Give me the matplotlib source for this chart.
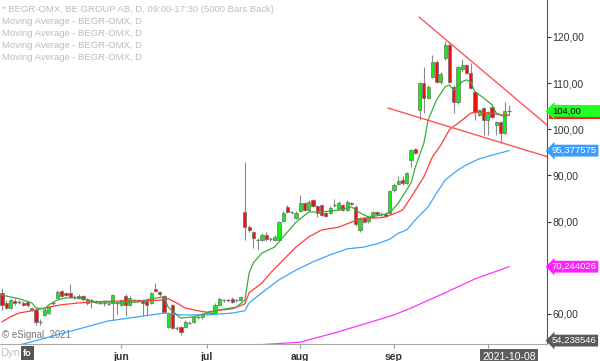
import numpy as np
import matplotlib.pyplot as plt
from matplotlib.patches import Rectangle
from matplotlib.transforms import blended_transform_factory

plt.rcParams.update({"font.family": ["Liberation Sans", "DejaVu Sans"], "font.size": 7})

# daglig OHLC, BEGR-OMX, index 0 = första synliga stapeln
opens = [64.5, 62.4, 61.3, 62.8, 62.6, 62.4, 62.6, 60.9, 60.9, 58.3,
         59.8, 60.2, 62.4, 63.5, 65.0, 64.5, 64.5, 63.7, 63.9, 63.9,
         62.4, 63.0, 62.8, 62.4, 62.3, 62.2, 62.4, 62.4, 62.0, 63.9,
         62.0, 63.0, 63.0, 63.0, 62.8, 62.4, 65.4, 64.8, 63.9, 57.2,
         62.0, 57.0, 57.2, 57.2, 58.1, 58.3, 59.3, 59.3, 60.2, 60.2,
         60.2, 62.0, 63.0, 63.0, 63.3, 63.0, 63.0, 82.1, 78.85, 77.8,
         76.0, 76.0, 77.1, 76.2, 76.0, 76.0, 80.2, 83.2, 82.1, 80.8,
         82.3, 84.0, 82.5, 84.7, 83.4, 83.6, 81.9, 81.9, 83.6, 82.8,
         83.6, 82.5, 84.0, 83.2, 78.2, 80.8, 80.1, 81.0, 82.1, 81.7,
         81.7, 81.9, 86.9, 88.2, 89.0, 88.4, 93.4, 95.7, 104.2, 110.0,
         106.8, 111.3, 114.6, 110.3, 115.5, 118.3, 109.2, 105.9, 113.0, 113.9,
         112.2, 108.1, 103.1, 104.6, 102.0, 104.8, 100.9, 101.6, 99.2, 103.9]
highs = [65.6, 63.0, 63.3, 63.5, 63.0, 62.8, 62.9, 61.6, 61.2, 59.0,
         61.2, 61.8, 62.8, 65.2, 65.3, 64.8, 66.5, 64.1, 64.3, 64.2,
         63.5, 63.3, 63.1, 62.7, 63.0, 62.5, 64.3, 62.8, 63.3, 64.3,
         63.8, 63.3, 63.3, 63.3, 63.1, 64.8, 66.7, 65.0, 64.1, 60.4,
         62.2, 57.4, 57.5, 58.6, 58.4, 59.6, 59.6, 60.3, 60.5, 60.5,
         62.3, 63.6, 63.3, 63.3, 63.6, 63.3, 64.0, 92.9, 79.2, 78.0,
         76.4, 77.5, 77.8, 76.6, 77.0, 80.2, 82.3, 83.6, 82.4, 82.2,
         85.8, 84.3, 84.6, 85.0, 83.7, 83.9, 82.2, 83.3, 84.9, 84.5,
         83.9, 84.6, 84.3, 83.5, 81.0, 81.1, 81.2, 82.4, 82.4, 82.0,
         82.0, 86.9, 88.4, 89.8, 89.8, 90.8, 95.8, 96.0, 110.3, 113.5,
         109.5, 116.0, 115.0, 112.5, 119.1, 118.8, 109.5, 113.8, 115.2, 114.2,
         114.4, 108.4, 104.5, 104.9, 104.0, 105.1, 101.9, 101.9, 106.0, 105.3]
lows = [60.9, 61.0, 61.0, 62.0, 62.2, 61.7, 61.6, 60.6, 57.6, 57.6,
        59.5, 60.0, 62.0, 63.3, 63.7, 63.9, 63.5, 63.3, 63.2, 62.8,
        62.0, 61.3, 62.3, 62.1, 61.7, 61.9, 58.7, 60.0, 61.8, 59.5,
        61.8, 62.7, 62.7, 59.5, 59.5, 62.2, 64.8, 64.0, 60.2, 57.0,
        56.8, 56.6, 55.5, 57.0, 57.8, 58.0, 59.0, 59.0, 59.9, 59.9,
        60.0, 61.8, 62.7, 62.7, 62.4, 62.7, 62.8, 76.0, 77.8, 74.3,
        73.9, 75.7, 75.9, 75.8, 75.7, 75.8, 80.0, 81.8, 81.7, 80.5,
        82.0, 82.2, 82.3, 83.1, 80.9, 81.2, 80.9, 81.6, 83.2, 82.5,
        82.2, 82.2, 83.5, 79.0, 77.8, 79.6, 79.8, 80.8, 81.4, 81.3,
        81.0, 81.6, 86.5, 87.9, 88.0, 88.1, 91.8, 94.6, 102.0, 103.5,
        106.5, 111.0, 110.0, 109.8, 115.0, 110.0, 103.5, 105.5, 112.6, 111.9,
        108.7, 102.0, 102.8, 98.8, 98.8, 102.4, 98.8, 97.0, 98.9, 103.0]
closes = [62.0, 61.3, 63.0, 62.4, 62.5, 62.0, 62.0, 61.3, 58.3, 58.4,
          60.9, 61.5, 62.5, 64.8, 63.9, 64.1, 63.7, 63.7, 63.5, 63.3,
          63.2, 63.0, 62.6, 62.4, 62.3, 62.2, 64.1, 62.4, 63.0, 62.0,
          63.5, 63.0, 63.0, 62.4, 62.0, 64.5, 65.0, 64.3, 60.4, 60.2,
          57.0, 57.0, 56.1, 58.3, 58.1, 59.3, 59.3, 60.0, 60.2, 60.2,
          62.0, 63.3, 63.0, 63.0, 62.6, 63.0, 63.7, 78.85, 78.2, 76.5,
          76.1, 77.1, 76.3, 76.3, 76.7, 79.9, 81.9, 82.1, 82.0, 81.9,
          84.1, 82.5, 84.3, 83.4, 81.9, 81.5, 81.2, 83.0, 83.6, 84.0,
          82.5, 84.3, 83.8, 79.5, 80.8, 79.9, 81.0, 82.1, 81.7, 81.7,
          81.2, 86.6, 87.9, 88.8, 88.4, 90.5, 95.5, 94.9, 110.0, 106.8,
          109.2, 114.6, 110.3, 112.0, 118.3, 110.3, 105.9, 113.5, 113.9, 112.2,
          109.0, 103.8, 104.2, 102.0, 103.5, 102.7, 101.6, 99.2, 104.0, 104.0]

# glidande medelvärden (stapelindex, kurs)
ma_green_idx = [0, 2, 4, 7, 8, 10, 11, 13, 15, 18, 20, 22, 25, 28, 32, 35, 38, 39, 41, 42,
                45, 48, 51, 55, 57, 58, 59, 61, 64, 66, 69, 72, 75, 79, 82, 84, 86, 89, 91, 93,
                96, 97, 99, 100, 102, 104, 105, 106, 108, 109, 110, 111, 113, 115, 116, 118, 119]
ma_green = [64.1, 63.7, 63.3, 62.4, 61.3, 61.1, 62.0, 63.0, 63.5, 63.5, 63.0, 62.4, 62.4, 62.4,
            62.6, 63.3, 63.7, 61.5, 59.8, 59.1, 59.4, 60.2, 60.9, 61.5, 63.0, 68.9, 71.1, 73.2,
            74.5, 76.7, 79.9, 82.1, 82.1, 82.5, 83.2, 81.9, 81.0, 81.4, 81.9, 84.0, 88.4, 91.8,
            97.0, 102.0, 106.4, 109.2, 109.6, 108.5, 110.3, 110.7, 110.3, 108.1, 106.8, 105.3,
            103.5, 102.7, 103.1]
ma_red_idx = [0, 2, 4, 7, 9, 11, 14, 16, 18, 21, 23, 28, 32, 37, 39, 41, 43, 46, 48, 50, 54,
              57, 58, 61, 63, 66, 69, 72, 75, 79, 82, 85, 88, 90, 93, 94, 96, 99, 101, 103, 105,
              108, 110, 112, 115, 117, 119]
ma_red = [58.3, 59.4, 60.2, 60.7, 61.1, 61.5, 62.0, 62.2, 62.4, 62.6, 62.7, 62.8, 62.8, 63.0,
          63.3, 62.4, 61.3, 60.7, 60.4, 60.7, 61.1, 62.2, 64.6, 66.7, 68.9, 71.7, 74.5, 76.7,
          78.2, 78.8, 79.9, 80.8, 80.8, 81.0, 82.1, 82.5, 85.3, 89.7, 94.0, 96.6, 99.9, 102.0,
          103.5, 103.8, 103.5, 103.1, 103.1]
ma_blue_idx = [3, 11, 19, 25, 32, 38, 42, 48, 54, 57, 58, 61, 65, 69, 73, 77, 81, 85, 88, 91,
               93, 95, 97, 100, 102, 104, 107, 109, 112, 115, 119]
ma_blue = [53.0, 55.0, 57.0, 58.5, 59.4, 60.2, 59.8, 59.8, 60.2, 60.7, 62.4, 64.6, 67.4, 69.5,
           71.3, 72.8, 74.1, 74.5, 75.2, 76.2, 77.5, 78.2, 80.4, 83.2, 86.2, 89.0, 91.2, 92.3,
           93.6, 94.4, 95.38]
ma_pink_idx = [53, 70, 78, 86, 92, 96, 104, 111, 119]
ma_pink = [52.9, 53.9, 55.9, 58.1, 59.8, 61.3, 64.6, 67.6, 70.24]

# trendlinjer (index, kurs)
trend_top = ([97.9, 128.2], [124.3, 100.7])
trend_bottom = ([90.6, 128.2], [104.6, 94.0])

month_pos = [28, 48, 70, 92, 114]
month_lbl = ["jun", "jul", "aug", "sep", ""]  # okt-etiketten döljs av datumrutan
y_ticks = [60, 70, 80, 90, 100, 110, 120]

fig = plt.figure(figsize=(6, 3.61), dpi=100)
ax = fig.add_axes([0, 17 / 361, 547 / 600, 344 / 361])

o = np.array(opens)
h = np.array(highs)
l = np.array(lows)
c = np.array(closes)
x = np.arange(len(c))
up = c > o + 0.15
dn = c < o - 0.15
flat = ~(up | dn)

ax.vlines(x, l, h, color="#8a8a8a", lw=0.8, zorder=2)
ax.bar(x[up], (c - o)[up], bottom=o[up], width=0.75, color="#11ee11",
       edgecolor="#6e6e6e", lw=0.5, zorder=3)
ax.bar(x[dn], (o - c)[dn], bottom=c[dn], width=0.75, color="#ee1111",
       edgecolor="#6e6e6e", lw=0.5, zorder=3)
ax.hlines((o[flat] + c[flat]) / 2, x[flat] - 0.4, x[flat] + 0.4, color="#777777", lw=1, zorder=3)

ax.plot(ma_pink_idx, ma_pink, color="#ff33ff", lw=0.9, zorder=4)
ax.plot(ma_blue_idx, ma_blue, color="#3fa6ff", lw=0.9, zorder=4)
ax.plot(ma_red_idx, ma_red, color="#ff3b3b", lw=0.9, zorder=4)
ax.plot(ma_green_idx, ma_green, color="#3aad3a", lw=0.9, zorder=4)

ax.plot(*trend_top, color="#ff5555", lw=1, zorder=5)
ax.plot(*trend_bottom, color="#ff5555", lw=1, zorder=5)

ax.set_xlim(-0.47, 127.9)
ax.set_ylim(53.5, 128.0)

for s in ["top", "left"]:
    ax.spines[s].set_visible(False)
ax.spines["right"].set_color("#555555")
ax.spines["bottom"].set_color("#aaaaaa")

ax.yaxis.tick_right()
ax.set_yticks(y_ticks)
# 70-etiketten ligger under MA-rutan i originalet
ax.set_yticklabels(["" if v == 70 else f"{v:.2f}".replace(".", ",") for v in y_ticks])
ax.tick_params(axis="y", direction="out", length=3, pad=1, labelsize=7.5,
               colors="#333333")
ax.set_xticks(month_pos)
ax.set_xticklabels(month_lbl, fontweight="bold")
ax.tick_params(axis="x", direction="out", length=3, pad=3, labelsize=7.5,
               colors="#333333")
ax.tick_params(axis="x", color="#999999")

yt = ax.get_yaxis_transform()


def price_tag(y, text, fc, tc):
    ax.text(1.009, y, text, transform=yt, ha="left", va="center", fontsize=6.8,
            color=tc, clip_on=False, zorder=10,
            bbox=dict(boxstyle="larrow,pad=0.15", fc=fc, ec="none"))


# röd MA-ruta som skymtar under kursrutan, grön kursruta ut till kanten
ax.add_patch(Rectangle((1.004, 102.3), 0.1, 1.6, transform=yt, clip_on=False,
                       fc="#ff2222", ec="none", zorder=9))
ax.add_patch(Rectangle((1.05, 102.75), 0.06, 2.5, transform=yt, clip_on=False,
                       fc="#22ff22", ec="none", zorder=9.5))
price_tag(104.0, "104,00", "#22ff22", "#000000")
price_tag(95.377575, "95,377575", "#3a9cff", "white")
price_tag(70.244026, "70,244026", "#ff22ff", "white")
price_tag(54.238546, "54,238546", "#5a5a5a", "white")

bt = blended_transform_factory(ax.transData, ax.transAxes)
ax.text(119, -0.022, "2021-10-08", transform=bt, ha="center", va="top", fontsize=7.5,
        color="white", clip_on=False, zorder=10,
        bbox=dict(boxstyle="square,pad=0.2", fc="#5e5e5e", ec="none"))

ax.text(0.004, 0.025, "© eSignal, 2021", transform=ax.transAxes, fontsize=7,
        color="#777777", va="center")

legend_lines = ["* BEGR-OMX, BE GROUP AB, D, 09:00-17:30 (5000 Bars Back)"] + \
               ["Moving Average - BEGR-OMX, D"] * 4
for k, t in enumerate(legend_lines):
    fig.text(0.003, 1 - (10 + k * 11.8) / 361, t, fontsize=6.8, color="#bcbcbc",
             va="center")

fig.text(0.0, 1 - 353 / 361, "Dyn", fontsize=8, color="#c0c0c0", va="center")
fig.text(0.038, 1 - 353 / 361, "fo", fontsize=6.5, color="white", va="center",
         fontweight="bold", bbox=dict(boxstyle="square,pad=0.25", fc="#555555", ec="none"))

fig.savefig("out.png", dpi=100)
